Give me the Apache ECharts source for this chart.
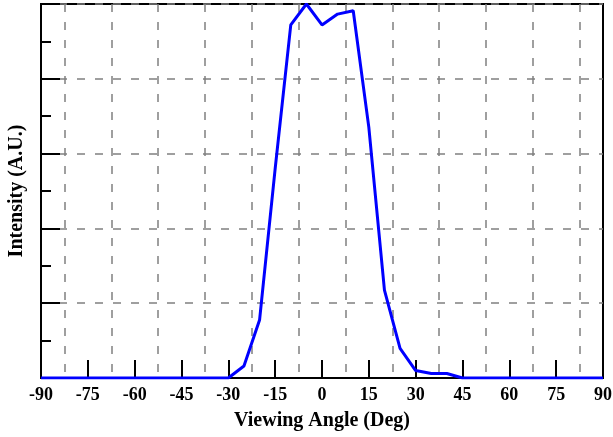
<!DOCTYPE html>
<html>
<head>
<meta charset="utf-8">
<script src="https://cdn.jsdelivr.net/npm/echarts@6/dist/echarts.min.js"></script>
<style>
  html, body { margin: 0; padding: 0; background: #fff; }
  #chart { width: 613px; height: 437px; }
</style>
</head>
<body>
<div id="chart"></div>
<script>
// viewing angle (deg) and relative intensity
var angles = [-90, -85, -80, -75, -70, -65, -60, -55, -50, -45, -40, -35, -30,
  -25, -20, -15, -10, -5, 0, 5, 10, 15, 20, 25, 30, 35, 40, 45,
  50, 55, 60, 65, 70, 75, 80, 85, 90];
var intensity = [0, 0, 0, 0, 0, 0, 0, 0, 0, 0, 0, 0, 0,
  0.032, 0.155, 0.56, 0.944, 1.0, 0.944, 0.973, 0.982, 0.67, 0.235, 0.079, 0.02, 0.012, 0.012, 0,
  0, 0, 0, 0, 0, 0, 0, 0, 0];

var xTicks = [-90, -75, -60, -45, -30, -15, 0, 15, 30, 45, 60, 75, 90];

var seriesData = angles.map(function (a, i) { return [a, intensity[i]]; });

var chart = echarts.init(document.getElementById('chart'), null, { renderer: 'canvas' });

var font = '"Liberation Serif", "Times New Roman", serif';

var option = {
  backgroundColor: '#ffffff',
  animation: false,
  grid: {
    left: 41, right: 10, top: 4, bottom: 59,
    containLabel: false,
    outerBoundsMode: 'none',
    show: true,
    borderColor: '#000',
    borderWidth: 2,
    backgroundColor: 'transparent'
  },
  xAxis: {
    type: 'value',
    min: xTicks[0],
    max: xTicks[xTicks.length - 1],
    interval: 15,
    name: 'Viewing Angle (Deg)',
    nameLocation: 'middle',
    nameGap: 33,
    nameTextStyle: { fontFamily: font, fontWeight: 'bold', fontSize: 20, color: '#000' },
    axisLine: { show: true, onZero: false, lineStyle: { color: '#000', width: 2 } },
    axisTick: { show: true, inside: true, length: 18, lineStyle: { color: '#000', width: 2 } },
    axisLabel: { fontFamily: font, fontWeight: 'bold', fontSize: 18, color: '#000', margin: 8 },
    splitLine: { show: false },
    minorTick: { show: false, splitNumber: 2 },
    minorSplitLine: { show: true, lineStyle: { color: '#808080', width: 1.5, type: [8, 10] } }
  },
  yAxis: {
    type: 'value',
    min: 0,
    max: 1,
    interval: 0.2,
    name: 'Intensity (A.U.)',
    nameLocation: 'middle',
    nameGap: 14,
    nameTextStyle: { fontFamily: font, fontWeight: 'bold', fontSize: 20, color: '#000' },
    axisLine: { show: true, onZero: false, lineStyle: { color: '#000', width: 2 } },
    axisTick: { show: true, inside: true, length: 19, lineStyle: { color: '#000', width: 2 } },
    minorTick: { show: true, splitNumber: 2, length: 10, lineStyle: { color: '#000', width: 2 } },
    axisLabel: { show: false },
    splitLine: { show: true, lineStyle: { color: '#808080', width: 1.5, type: [8, 10] } }
  },
  series: [{
    type: 'line',
    data: seriesData,
    showSymbol: false,
    lineStyle: { color: '#0000ff', width: 3 },
    itemStyle: { color: '#0000ff' }
  }]
};

chart.setOption(option);
</script>
</body>
</html>
